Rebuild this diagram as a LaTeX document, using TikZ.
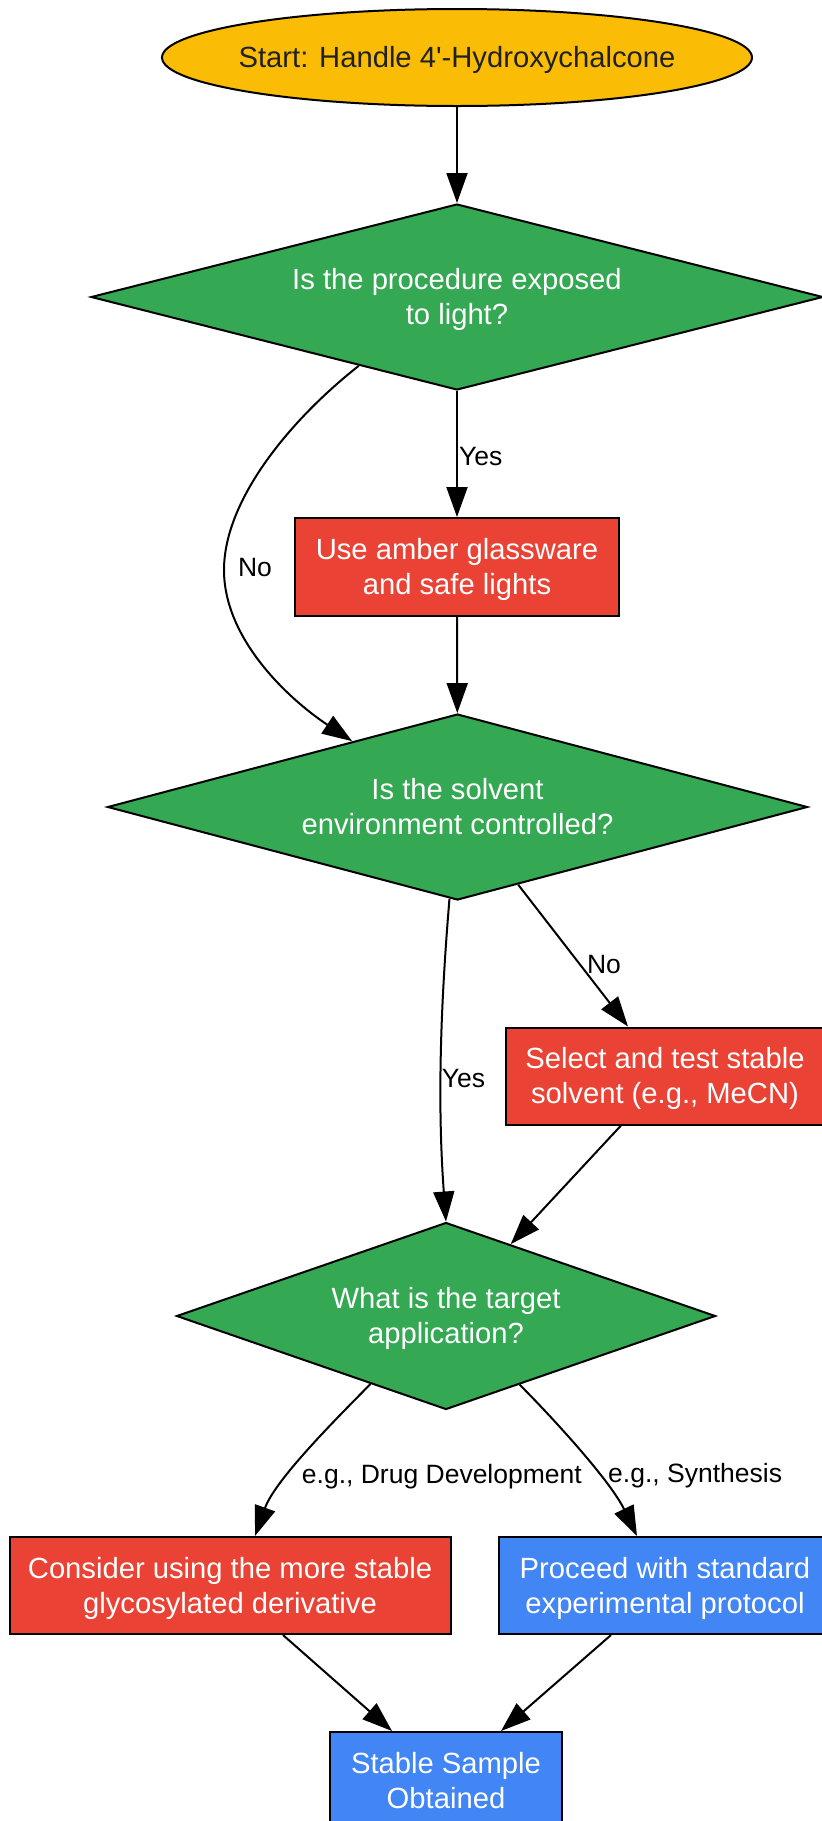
\documentclass[tikz,border=0pt]{standalone}
\usepackage{fontspec}
\newfontfamily\lsans{Liberation Sans}
\usetikzlibrary{shapes.geometric,arrows.meta,calc}
\definecolor{gyellow}{HTML}{FBBC05}
\definecolor{ggreen}{HTML}{34A853}
\definecolor{gred}{HTML}{EA4335}
\definecolor{gblue}{HTML}{4285F4}
\definecolor{gdark}{HTML}{202124}
\newcommand\nt[1]{\raisebox{-3pt}[\height][\depth]{\begin{tabular}{@{}c@{}}#1\end{tabular}}}
\begin{document}
\begin{tikzpicture}[x=1pt,y=-1pt,
  base/.style={draw=black, line width=2pt, font=\lsans\fontsize{29.2}{35}\selectfont, text=white, inner sep=0pt},
  startnode/.style={base, ellipse, fill=gyellow, text=gdark, inner xsep=-40pt},
  decision/.style={base, diamond, fill=ggreen},
  procbox/.style={base, rectangle, fill=gred},
  bluebox/.style={base, rectangle, fill=gblue},
  arr/.style={line width=2pt, -{Triangle[length=30pt,width=21pt]}},
  lbl/.style={font=\lsans\fontsize{26.5}{31}\selectfont, text=black, inner sep=0pt}]
\useasboundingbox (0,0) rectangle (822,1821);
\clip (0,0) rectangle (822,1821);

\node[startnode, minimum width=590pt, minimum height=97pt] (start) at (457,57.5) {\nt{Start: Handle 4'-Hydroxychalcone}};
\node[decision, aspect=3.935, minimum width=732pt, minimum height=186pt] (d1) at (457,297) {\nt{Is the procedure exposed\\to light?}};
\node[procbox, minimum width=324pt, minimum height=98pt] (box1) at (457,567) {\nt{Use amber glassware\\and safe lights}};
\node[decision, aspect=3.763, minimum width=700pt, minimum height=186pt] (d2) at (457.5,807) {\nt{Is the solvent\\environment controlled?}};
\node[procbox, minimum width=318pt, minimum height=97pt] (box2) at (665,1076) {\nt{Select and test stable\\solvent (e.g., MeCN)}};
\node[decision, aspect=2.882, minimum width=539pt, minimum height=187pt] (d3) at (446,1316) {\nt{What is the target\\application?}};
\node[procbox, minimum width=441pt, minimum height=97pt] (box3) at (230,1585.5) {\nt{Consider using the more stable\\glycosylated derivative}};
\node[bluebox, minimum width=332pt, minimum height=97pt] (box4) at (665,1585.5) {\nt{Proceed with standard\\experimental protocol}};
\node[bluebox, minimum width=232pt, minimum height=97pt] (box5) at (446,1780.5) {\nt{Stable Sample\\Obtained}};

\draw[arr] (start) -- (d1);
\draw[arr] (d1) -- node[lbl, anchor=west, pos=0.52, xshift=1pt]{Yes} (box1);
\draw[arr] (d1.215.5) .. controls (290,420) and (224,500) .. (224,570)
  node[lbl, anchor=west, xshift=13pt, yshift=2pt]{No}
  .. controls (224,640) and (290,700) .. (d2.148.7);
\draw[arr] (box1) -- (d2);
\draw[arr] (d2.-52.9) -- node[lbl, anchor=west, pos=0.563, xshift=6pt]{No} ([xshift=-37pt]box2.north);
\draw[arr] (d2.265) .. controls (441,1000) and (437,1100) .. node[lbl, anchor=west, pos=0.58]{Yes} (d3.north);
\draw[arr] ([xshift=-44pt]box2.south) -- (d3.48.3);
\draw[arr] (d3.222.2) .. controls (335,1420) and (275,1480) .. node[lbl, anchor=west, pos=0.65, xshift=13pt]{e.g., Drug Development} ([xshift=25pt]box3.north);
\draw[arr] (d3.-43.8) .. controls (550,1415) and (610,1480) .. node[lbl, anchor=west, pos=0.65, xshift=8pt]{e.g., Synthesis} ([xshift=-28pt]box4.north);
\draw[arr] ([xshift=53pt]box3.south) -- ([xshift=-54pt]box5.north);
\draw[arr] ([xshift=-54pt]box4.south) -- ([xshift=55pt]box5.north);
\end{tikzpicture}
\end{document}
